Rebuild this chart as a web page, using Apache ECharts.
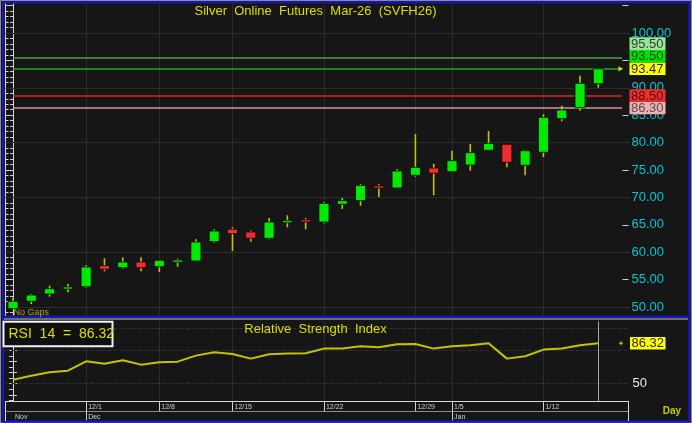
<!DOCTYPE html>
<html><head><meta charset="utf-8">
<script src="https://cdn.jsdelivr.net/npm/echarts@6/dist/echarts.min.js"></script>
<style>html,body{margin:0;padding:0;background:#161616;}#c{width:692px;height:423px;}</style>
</head><body><div id="c"></div>
<script>
// ---------------- DATA ----------------
const dates = ['11/24','11/25','11/26','11/28','12/1','12/2','12/3','12/5','12/8','12/9','12/10','12/12','12/15','12/16','12/17','12/18','12/19','12/22','12/23','12/24','12/26','12/27','12/29','12/30','1/5','1/6','1/7','1/8','1/9','1/12','1/13','1/14','1/15'];
const opens  = [49.69,51.04,52.37,53.34,53.70,57.54,57.17,58.21,57.35,58.21,58.39,61.92,64.18,63.69,62.54,65.38,65.88,65.51,68.74,69.40,72.08,71.72,74.03,75.36,74.69,75.91,78.59,79.69,75.86,78.23,84.36,86.37,90.75];
const closes = [51.04,52.19,53.34,53.59,57.30,56.88,58.21,57.17,58.52,58.52,61.86,63.87,63.38,62.54,65.51,65.75,65.57,68.92,69.40,72.20,71.72,74.82,75.49,74.40,76.70,78.16,79.87,76.40,78.52,84.62,85.95,90.82,93.47];
const lows   = [49.60,50.55,51.88,52.68,53.52,56.51,56.99,56.51,56.39,57.35,58.30,61.73,60.22,61.92,62.35,64.54,64.18,65.27,67.88,68.49,70.07,71.70,73.78,70.38,74.65,74.87,78.55,75.49,74.03,77.37,83.89,85.82,90.02];
const highs  = [51.64,52.37,53.89,54.20,57.61,58.89,59.07,59.07,58.55,58.81,62.35,64.18,64.54,63.92,66.24,66.73,66.24,69.16,69.89,72.45,72.39,75.13,81.57,76.15,78.52,79.74,82.12,79.70,78.65,85.16,86.73,92.21,93.50];
const rsi    = [53.6,57.2,60.2,61.7,70.1,68.0,71.0,67.1,69.2,69.8,75.2,78.2,76.7,72.5,76.4,77.0,77.3,81.5,81.5,83.6,82.7,85.4,85.7,81.5,83.6,84.5,86.3,72.5,74.6,80.6,81.5,84.5,86.32];
const levels = [95.50, 93.50, 88.50, 86.30];
const weekTicks = ['12/1','12/8','12/15','12/22','12/29','1/5','1/12'];
const monthStarts = ['11/24','12/1','1/5'];
const monthNames = ['Nov','Dec','Jan'];
const priceLabels = [50,55,60,65,70,75,80,85,90,95,100];
const priceGrid = [50,60,70,80,90,100];
const rsiLabels = [50];
const rsiGrid = [50,80,100];
const rsiPeriod = 14;

// ---------------- STYLE / LAYOUT ----------------
const FONT = '"Liberation Sans", Arial, sans-serif';
const YEL = '#dede00';
const levelLine = ['#4a9e4a','#22a822','#e02424','#d89494'];
const levelBox = [
  {bg:'#98e898', fg:'#3a3a3a'},
  {bg:'#00e400', fg:'#1c381c'},
  {bg:'#ee2e2e', fg:'#5a0a0a'},
  {bg:'#f4b0b0', fg:'#505050'}
];
const lastBox = {bg:'#ffff00', fg:'#2a2a2a'};
const X_MIN = -0.41, X_MAX = 33.65;
const P_MIN = 48.449, P_MAX = 105.474;
const R_MIN = 34.47, R_MAX = 106.01;
const LINE_END = 33.30;

const seq = (a, b, s) => { const r = []; for (let v = a; v <= b + 1e-9; v += s) r.push(+v.toFixed(4)); return r; };
const weekIdx = weekTicks.map(d => dates.indexOf(d));
const monthIdx = monthStarts.map(d => dates.indexOf(d));
const candleData = dates.map((d, i) => [i, opens[i], closes[i], lows[i], highs[i]]);
const rsiData = dates.map((d, i) => [i, rsi[i]]);
const last = closes.length - 1;

const gridLine = {color:'#2c2c2c', width:1, type:'solid'};
const priceMarks = []
  .concat(priceGrid.map(v => ({yAxis: v, lineStyle: gridLine})))
  .concat(weekIdx.map(i => ({xAxis: i, lineStyle: gridLine})))
  .concat(levels.map((v, k) => [{coord:[0, v], lineStyle:{color: levelLine[k], width:1.6, type:'solid'}}, {coord:[LINE_END, v]}]));
const rsiMarks = []
  .concat(rsiGrid.map(v => ({yAxis: v, lineStyle: {color:'#2e2e2e', width:1, type:'dashed'}})))
  .concat(weekIdx.map(i => ({xAxis: i, lineStyle: gridLine})))
  .concat([{xAxis: last, lineStyle: {color:'#a8a8a8', width:1, type:'solid'}}]);

const tickCol = {color:'#d0d0d0', width:1};
function yAx(grid, pos, min, max, tickVals, len, line, labelVals, labelCfg) {
  return {
    type:'value', gridIndex:grid, position:pos, min:min, max:max,
    axisLine:{show:line, lineStyle:{color:'#d8d8d8', width:1}},
    axisTick:{show:true, inside:true, length:len, customValues:tickVals, lineStyle:tickCol},
    axisLabel: labelVals ? Object.assign({show:true, customValues:labelVals, fontFamily:FONT}, labelCfg) : {show:false},
    splitLine:{show:false}
  };
}

const chart = echarts.init(document.getElementById('c'), null, {renderer:'canvas', width:692, height:423});
const option = {
  backgroundColor:'#161616',
  animation:false,
  grid:[
    {left:5.5, right:63.5, top:3, height:312.5, containLabel:false, outerBoundsMode:'none'},
    {left:5.5, right:63.5, top:321.3, height:79.7, containLabel:false, outerBoundsMode:'none'}
  ],
  xAxis:[
    {type:'value', gridIndex:0, min:X_MIN, max:X_MAX, show:false},
    {type:'value', gridIndex:1, min:X_MIN, max:X_MAX, position:'bottom',
      axisLine:{show:true, onZero:false, lineStyle:{color:'#d8d8d8', width:1}},
      axisTick:{show:true, inside:false, length:10, customValues:weekIdx, lineStyle:tickCol},
      axisLabel:{show:true, customValues:weekIdx, formatter:v => dates[Math.round(v)], align:'left', margin:2.5,
        padding:[0,0,0,2], color:'#d0d0d0', fontSize:7, fontFamily:FONT},
      splitLine:{show:false}},
    {type:'value', gridIndex:1, min:X_MIN, max:X_MAX, position:'bottom', offset:10,
      axisLine:{show:true, onZero:false, lineStyle:{color:'#8a8a8a', width:1}},
      axisTick:{show:true, inside:false, length:10, customValues:monthIdx.slice(1), lineStyle:tickCol},
      axisLabel:{show:true, customValues:monthIdx, formatter:v => monthNames[monthIdx.indexOf(Math.round(v))], align:'left', margin:2.5,
        padding:[0,0,0,2], color:'#d0d0d0', fontSize:7, fontFamily:FONT},
      splitLine:{show:false}}
  ],
  yAxis:[
    yAx(0,'right',P_MIN,P_MAX,seq(49,105,1),3,true,priceLabels,{formatter:v => v.toFixed(2), color:'#00c6d4', fontSize:13, margin:3}),
    yAx(0,'right',P_MIN,P_MAX,seq(50,105,5),6,false),
    yAx(0,'left',P_MIN,P_MAX,seq(49,105,1),3,true),
    yAx(0,'left',P_MIN,P_MAX,seq(50,105,5),5,false),
    yAx(1,'right',R_MIN,R_MAX,seq(35,105,5),4,true,rsiLabels,{formatter:v => String(v), color:'#e8e8e8', fontSize:13, margin:4}),
    yAx(1,'left',R_MIN,R_MAX,seq(40,100,10),4,true)
  ],
  series:[
    {
      type:'custom', xAxisIndex:0, yAxisIndex:0, z:3, data:candleData,
      encode:{x:0, y:[1,2,3,4]},
      renderItem:function(params, api){
        const x = api.value(0), o = api.value(1), c = api.value(2), l = api.value(3), h = api.value(4);
        const pO = api.coord([x, o]), pC = api.coord([x, c]), pL = api.coord([x, l]), pH = api.coord([x, h]);
        const w = api.size([1, 0])[0] * 0.55;
        let top = Math.min(pO[1], pC[1]), bot = Math.max(pO[1], pC[1]);
        if (bot - top < 2.2) { const m = (top + bot) / 2; top = m - 1.1; bot = m + 1.1; }
        return {type:'group', children:[
          {type:'line', shape:{x1:pH[0], y1:pH[1], x2:pL[0], y2:pL[1]}, style:{stroke:'#c4c400', lineWidth:1.6}},
          {type:'rect', shape:{x:pO[0] - w/2, y:top, width:w, height:bot - top},
            style:{fill: c >= o ? '#00ea00' : '#f02c2c', stroke:'#050505', lineWidth:0.8}}
        ]};
      },
      markLine:{z:1, silent:true, symbol:'none', animation:false, label:{show:false}, emphasis:{disabled:true}, data:priceMarks}
    },
    {
      type:'line', xAxisIndex:1, yAxisIndex:4, z:3, data:rsiData, showSymbol:false, symbol:'none',
      lineStyle:{color:'#c4c400', width:2}, emphasis:{disabled:true},
      markLine:{z:1, silent:true, symbol:'none', animation:false, label:{show:false}, emphasis:{disabled:true}, data:rsiMarks}
    }
  ]
};
chart.setOption(option);

// ---------- decorations & value boxes (positions via library scales) ----------
const g = [];
g.push({type:'rect', z:50, shape:{x:0.5, y:0.5, width:691, height:422}, style:{fill:'none', stroke:'#8c8c8c', lineWidth:1}});
g.push({type:'rect', z:50, shape:{x:3, y:2.2, width:686.5, height:419.3}, style:{fill:'none', stroke:'#1616b0', lineWidth:2.6}});
g.push({type:'rect', z:50, shape:{x:2, y:315.5, width:688, height:2.6}, style:{fill:'#1616b0'}});
g.push({type:'line', z:50, shape:{x1:4, y1:319, x2:688, y2:319}, style:{stroke:'#c8c8c8', lineWidth:1}});
g.push({type:'line', z:50, shape:{x1:628.5, y1:401, x2:628.5, y2:421}, style:{stroke:'#d8d8d8', lineWidth:1}});
g.push({type:'line', z:50, shape:{x1:5.5, y1:401, x2:5.5, y2:421}, style:{stroke:'#d8d8d8', lineWidth:1}});
g.push({type:'text', z:60, x:315.5, y:11.5, style:{text:'Silver  Online  Futures  Mar-26  (SVFH26)', fill:YEL, font:'13px ' + FONT, align:'center', verticalAlign:'middle'}});
g.push({type:'text', z:60, x:315.5, y:329.5, style:{text:'Relative  Strength  Index', fill:YEL, font:'13px ' + FONT, align:'center', verticalAlign:'middle'}});
g.push({type:'text', z:60, x:13.5, y:312.3, style:{text:'No Gaps', fill:'#a8a800', font:'9px ' + FONT, align:'left', verticalAlign:'middle'}});
g.push({type:'text', z:60, x:672, y:411.5, style:{text:'Day', fill:'#c8c800', font:'bold 10px ' + FONT, align:'center', verticalAlign:'middle'}});
g.push({type:'rect', z:60, shape:{x:3.5, y:321.8, width:109, height:24.5}, style:{fill:'#101010', stroke:'#f0f0f0', lineWidth:2}});
g.push({type:'text', z:61, x:8.5, y:334.3, style:{text:'RSI  ' + rsiPeriod + '  =  ' + rsi[last].toFixed(2), fill:YEL, font:'14px ' + FONT, align:'left', verticalAlign:'middle'}});

const BOX_H = 12.6;
const items = levels.map((v, k) => ({v:v, st:levelBox[k]})).concat([{v:closes[last], st:lastBox}]);
items.sort((a, b) => a.v - b.v);
let prev = Infinity;
items.forEach(it => {
  let y = chart.convertToPixel({yAxisIndex:0}, it.v);
  y = Math.min(y, prev - BOX_H); prev = y;
  g.push({type:'rect', z:70, shape:{x:629.5, y:y - BOX_H/2, width:36, height:BOX_H}, style:{fill:it.st.bg}});
  g.push({type:'text', z:71, x:631, y:y + 0.5, style:{text:it.v.toFixed(2), fill:it.st.fg, font:'13px ' + FONT, align:'left', verticalAlign:'middle'}});
});
const yLast = chart.convertToPixel({yAxisIndex:0}, closes[last]);
g.push({type:'polygon', z:70, shape:{points:[[618.5, yLast - 2.6], [623, yLast], [618.5, yLast + 2.6]]}, style:{fill:'#d8d800'}});
const yR = chart.convertToPixel({yAxisIndex:4}, rsi[last]);
g.push({type:'rect', z:70, shape:{x:630, y:yR - BOX_H/2, width:35.5, height:BOX_H}, style:{fill:'#ffff00'}});
g.push({type:'text', z:71, x:631.5, y:yR + 0.5, style:{text:rsi[last].toFixed(2), fill:'#2a2a2a', font:'13px ' + FONT, align:'left', verticalAlign:'middle'}});
g.push({type:'line', z:70, shape:{x1:619, y1:yR, x2:623, y2:yR}, style:{stroke:'#d8d800', lineWidth:1}});
g.push({type:'line', z:70, shape:{x1:621, y1:yR - 2, x2:621, y2:yR + 2}, style:{stroke:'#d8d800', lineWidth:1}});
chart.setOption({graphic:g});
</script>
</body></html>
